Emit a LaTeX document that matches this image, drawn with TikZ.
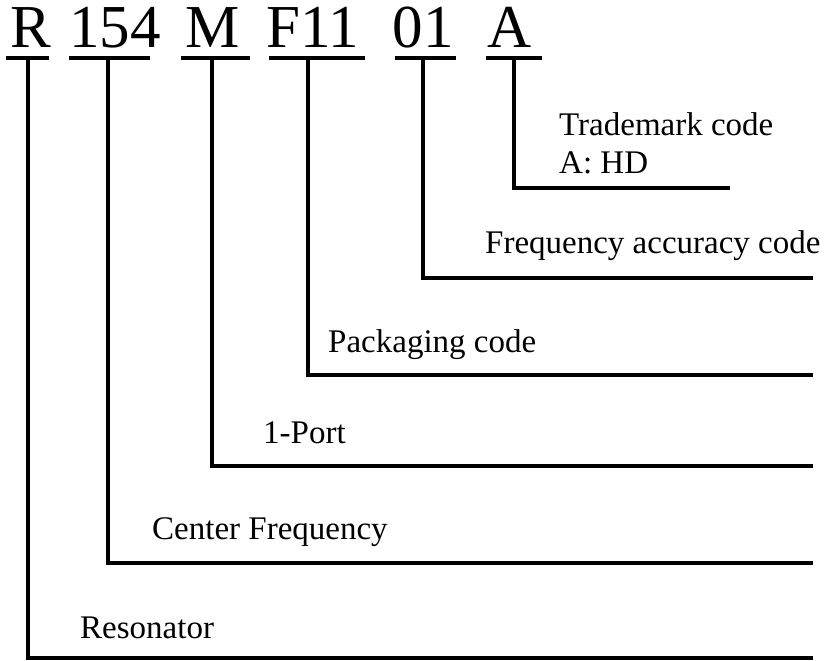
\documentclass[tikz,border=0pt]{standalone}
\usepackage{fontspec}
\setmainfont{Liberation Serif}
\begin{document}
\begin{tikzpicture}[x=1pt,y=-1pt,
  code/.style={inner sep=0pt, anchor=base, font=\fontsize{61}{61}\selectfont},
  lbl/.style={inner sep=0pt, anchor=base west, font=\fontsize{33}{40}\selectfont},
  uline/.style={line width=4.5pt},
  leader/.style={line width=4pt, line join=miter}]
\useasboundingbox (0,0) rectangle (827,661);
% code letters
\node[code] (cR)   at (31,48)  {R};
\node[code] (c154) at (115,48) {154};
\node[code] (cM)   at (213,48) {M};
\node[code] (cF)   at (313,48) {F11};
\node[code] (c01)  at (423,48) {01};
\node[code] (cA)   at (510,48) {A};
% underlines
\coordinate (uR1) at (6,58);   \coordinate (uR2) at (49,58);
\coordinate (u1541) at (69,58); \coordinate (u1542) at (150,58);
\coordinate (uM1) at (181,58); \coordinate (uM2) at (250,58);
\coordinate (uF1) at (269,58); \coordinate (uF2) at (365,58);
\coordinate (u011) at (395,58); \coordinate (u012) at (456,58);
\coordinate (uA1) at (486,58); \coordinate (uA2) at (542,58);
\draw[uline] (uR1) -- (uR2);
\draw[uline] (u1541) -- (u1542);
\draw[uline] (uM1) -- (uM2);
\draw[uline] (uF1) -- (uF2);
\draw[uline] (u011) -- (u012);
\draw[uline] (uA1) -- (uA2);
% leader start points
\coordinate (tR) at (28,58);
\coordinate (t154) at (108,58);
\coordinate (tM) at (212,58);
\coordinate (tF) at (308,58);
\coordinate (t01) at (423,58);
\coordinate (tA) at (514,58);
% leader end points
\coordinate (eR) at (813,658);
\coordinate (e154) at (813,563);
\coordinate (eM) at (813,466);
\coordinate (eF) at (813,375);
\coordinate (e01) at (813,278);
\coordinate (eA) at (730,188);
\draw[leader] (tR) |- (eR);
\draw[leader] (t154) |- (e154);
\draw[leader] (tM) |- (eM);
\draw[leader] (tF) |- (eF);
\draw[leader] (t01) |- (e01);
\draw[leader] (tA) |- (eA);
% labels
\node[lbl] (lA1) at (559,135) {Trademark code};
\node[lbl] (lA2) at (559,173) {A: HD};
\node[lbl] (l01) at (485,253) {Frequency accuracy code};
\node[lbl] (lF)  at (328,352) {Packaging code};
\node[lbl] (lM)  at (263,443) {1-Port};
\node[lbl] (l154) at (152,539) {Center Frequency};
\node[lbl] (lR)  at (80,638) {Resonator};
\end{tikzpicture}
\end{document}
